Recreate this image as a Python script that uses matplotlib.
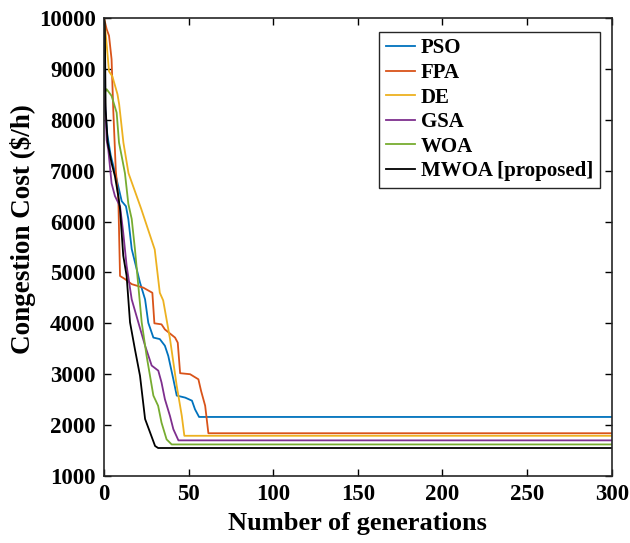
import matplotlib.pyplot as plt

# convergence curves (generation, cost)
pso_gen = [0, 0.6, 2, 4, 7, 10.5, 13, 14.4, 16.4, 21.3, 24.3, 26.2, 29.2, 33, 36, 38, 41, 43, 48, 52, 53.8, 56.2, 300]
pso_cost = [10000, 8300, 7700, 7300, 6900, 6400, 6300, 6050, 5460, 4800, 4470, 4010, 3720, 3690, 3560, 3360, 2900, 2580, 2540, 2480, 2310, 2160, 2160]

fpa_gen = [0, 1.6, 3, 4.5, 5.5, 7, 8.5, 9.5, 12.4, 16.4, 23.3, 28.6, 29.8, 34, 36, 42, 43.6, 45, 50.9, 55.8, 57.4, 59.8, 61.7, 300]
fpa_cost = [10000, 9780, 9650, 9190, 8200, 7000, 6440, 4930, 4870, 4770, 4700, 4600, 4000, 3980, 3880, 3720, 3620, 3020, 3000, 2900, 2670, 2380, 1840, 1840]

de_gen = [0, 1, 3, 5, 8, 9, 11.5, 14.5, 22, 30, 33, 35, 39, 43, 46, 47.5, 300]
de_cost = [10000, 9700, 8950, 8850, 8500, 8300, 7550, 6950, 6250, 5450, 4600, 4450, 3700, 2770, 2180, 1790, 1790]

gsa_gen = [0, 0.6, 1.6, 2.6, 4.5, 6.5, 9.5, 11.4, 13.4, 16.4, 20.3, 24.3, 28.2, 32.1, 34, 36, 39, 41, 44, 300]
gsa_cost = [8600, 8400, 7600, 7400, 6750, 6500, 6300, 5780, 5130, 4470, 4020, 3560, 3170, 3070, 2840, 2510, 2180, 1920, 1700, 1700]

woa_gen = [0, 1.6, 4.5, 7.5, 8.9, 10.5, 12.4, 14.4, 16.4, 18.3, 20.3, 22.3, 25.2, 29.2, 32, 34, 37, 40, 300]
woa_cost = [8500, 8600, 8470, 8140, 7550, 7280, 6950, 6350, 6050, 5460, 4740, 4020, 3360, 2580, 2380, 2050, 1720, 1620, 1620]

mwoa_gen = [0, 0.5, 1, 2.2, 4.5, 6.5, 8.5, 9.5, 11.4, 13.4, 15.4, 18.3, 21.3, 24.3, 27.2, 30.2, 32, 300]
mwoa_cost = [10000, 9900, 8200, 7550, 7150, 6890, 6500, 6240, 5330, 4930, 4020, 3490, 2970, 2120, 1860, 1590, 1550, 1550]

plt.rcParams['font.family'] = ['Liberation Serif', 'DejaVu Serif']
plt.rcParams['font.weight'] = 'bold'

fig = plt.figure(figsize=(6.3, 5.43), dpi=100)
ax = fig.add_axes([0.165, 0.1234, 0.806, 0.8435])

ax.plot(pso_gen, pso_cost, color='#0072BD', lw=1.3, label='PSO')
ax.plot(fpa_gen, fpa_cost, color='#D95319', lw=1.3, label='FPA')
ax.plot(de_gen, de_cost, color='#EDB120', lw=1.3, label='DE')
ax.plot(gsa_gen, gsa_cost, color='#7E2F8E', lw=1.3, label='GSA')
ax.plot(woa_gen, woa_cost, color='#77AC30', lw=1.3, label='WOA')
ax.plot(mwoa_gen, mwoa_cost, color='black', lw=1.3, label='MWOA [proposed]')

ax.set_xlim(0, 300)
ax.set_ylim(1000, 10000)
ax.set_xticks(range(0, 301, 50))
ax.set_yticks(range(1000, 10001, 1000))
ax.tick_params(direction='in', top=True, right=True, labelsize=16.5, length=5, width=1, pad=6)
for lbl in ax.get_xticklabels() + ax.get_yticklabels():
    lbl.set_fontweight('bold')
for s in ax.spines.values():
    s.set_linewidth(1.2)
    s.set_color('#262626')

ax.set_xlabel('Number of generations', fontsize=19, fontweight='bold', labelpad=5)
ax.set_ylabel('Congestion Cost ($/h)', fontsize=19.5, fontweight='bold', labelpad=2)
ax.yaxis.label.set_y(0.54)

leg = ax.legend(loc='upper right', bbox_to_anchor=(0.976, 0.969), borderaxespad=0,
                fontsize=15, handlelength=1.4, handletextpad=0.3, labelspacing=0.22,
                borderpad=0.3, fancybox=False, framealpha=1, edgecolor='#262626')
leg.get_frame().set_linewidth(1.0)
for t in leg.get_texts():
    t.set_fontweight('bold')

fig.savefig('out.png', dpi=100)
